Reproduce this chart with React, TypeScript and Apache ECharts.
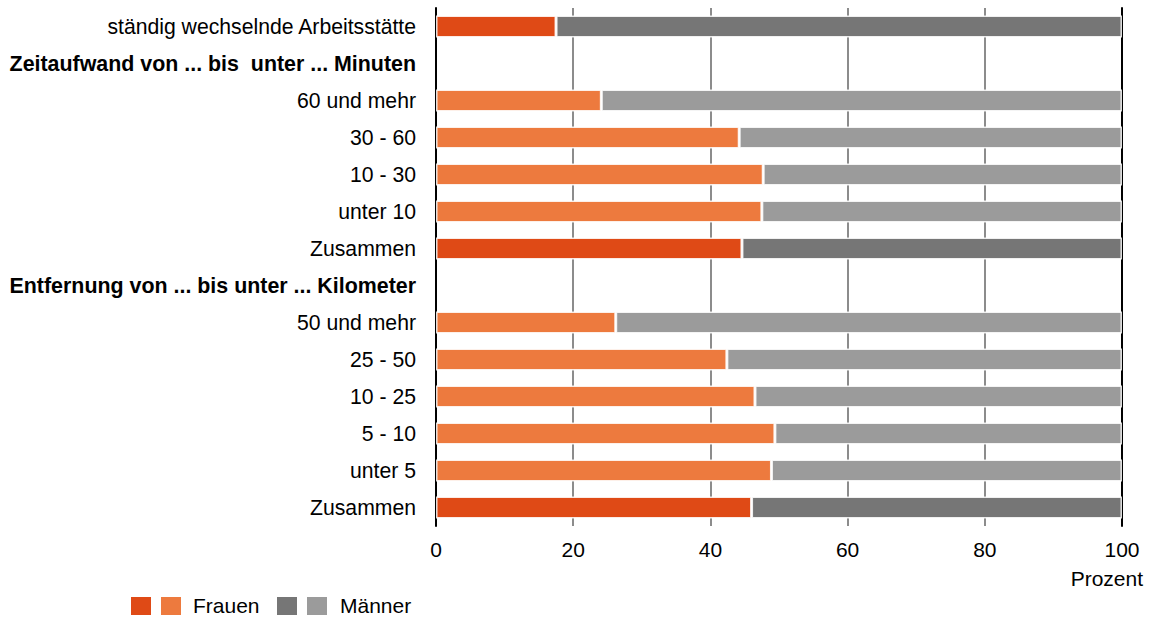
import React, { useEffect, useRef } from "react";
import * as echarts from "echarts";

const categories = [
  "ständig wechselnde Arbeitsstätte",
  "Zeitaufwand von ... bis  unter ... Minuten",
  "60 und mehr",
  "30 - 60",
  "10 - 30",
  "unter 10",
  "Zusammen",
  "Entfernung von ... bis unter ... Kilometer",
  "50 und mehr",
  "25 - 50",
  "10 - 25",
  "5 - 10",
  "unter 5",
  "Zusammen",
];

const kinds = [
  "total", "header", "sub", "sub", "sub", "sub", "total",
  "header", "sub", "sub", "sub", "sub", "sub", "total",
];

const frauen = [17.5, null, 24.1, 44.2, 47.7, 47.5, 44.6, null, 26.2, 42.4, 46.5, 49.4, 48.9, 46.0];
const maenner = [82.5, null, 75.9, 55.8, 52.3, 52.5, 55.4, null, 73.8, 57.6, 53.5, 50.6, 51.1, 54.0];

const xTicks = [0, 20, 40, 60, 80, 100];

const COLORS = {
  fDark: "#DF4A16",
  fLight: "#ED7A3E",
  mDark: "#767676",
  mLight: "#9B9B9B",
};

const FONT = "'Liberation Sans', Arial, sans-serif";

export default function App() {
  const ref = useRef<HTMLDivElement>(null);

  useEffect(() => {
    document.body.style.margin = "0";
    if (!ref.current) return;
    const chart = echarts.init(ref.current, null, { renderer: "svg" });

    const mk = (vals: (number | null)[], dark: string, light: string) =>
      vals.map((v, i) =>
        v === null
          ? null
          : { value: v, itemStyle: { color: kinds[i] === "total" ? dark : light } }
      );

    const barStyle = {
      borderColor: "rgba(255,255,255,0.85)",
      borderWidth: 1.5,
    };

    chart.setOption({
      animation: false,
      textStyle: { fontFamily: FONT },
      grid: { left: 436, right: 29, top: 8, height: 518, containLabel: false },
      xAxis: {
        type: "value",
        min: 0,
        max: 100,
        interval: 20,
        axisLine: { show: false },
        axisTick: { show: false },
        axisLabel: {
          fontSize: 21,
          color: "#000",
          fontFamily: FONT,
          margin: 13,
          formatter: (v: number) => (xTicks.includes(v) ? String(v) : ""),
        },
        splitLine: { show: true, lineStyle: { color: "#8C8C8C", width: 2 } },
      },
      yAxis: [
        {
          type: "category",
          data: categories,
          inverse: true,
          axisLine: { show: true, lineStyle: { color: "#000", width: 2 } },
          axisTick: { show: false },
          axisLabel: {
            fontSize: 21.2,
            color: "#000",
            fontFamily: FONT,
            margin: 20,
            formatter: (v: string, i: number) =>
              kinds[i] === "header" ? "{b|" + v + "}" : v,
            rich: {
              b: { fontWeight: "bold", fontSize: 21.4, color: "#000", fontFamily: FONT },
            },
          },
        },
        {
          type: "category",
          data: categories,
          inverse: true,
          position: "right",
          axisLine: { show: true, lineStyle: { color: "#000", width: 2 } },
          axisTick: { show: false },
          axisLabel: { show: false },
        },
      ],
      series: [
        {
          name: "Frauen",
          type: "bar",
          stack: "s",
          barWidth: 22,
          itemStyle: barStyle,
          data: mk(frauen, COLORS.fDark, COLORS.fLight),
        },
        {
          name: "Männer",
          type: "bar",
          stack: "s",
          barWidth: 22,
          itemStyle: barStyle,
          data: mk(maenner, COLORS.mDark, COLORS.mLight),
        },
      ],
      graphic: [
        {
          type: "text",
          right: 8,
          top: 568,
          style: { text: "Prozent", fontSize: 21, fill: "#000", fontFamily: FONT },
        },
        { type: "rect", shape: { x: 131, y: 597, width: 20, height: 18 }, style: { fill: COLORS.fDark } },
        { type: "rect", shape: { x: 161, y: 597, width: 20, height: 18 }, style: { fill: COLORS.fLight } },
        {
          type: "text",
          left: 193,
          top: 595,
          style: { text: "Frauen", fontSize: 21, fill: "#000", fontFamily: FONT },
        },
        { type: "rect", shape: { x: 277, y: 597, width: 20, height: 18 }, style: { fill: COLORS.mDark } },
        { type: "rect", shape: { x: 307, y: 597, width: 20, height: 18 }, style: { fill: COLORS.mLight } },
        {
          type: "text",
          left: 340,
          top: 595,
          style: { text: "Männer", fontSize: 21, fill: "#000", fontFamily: FONT },
        },
      ],
    });

    return () => chart.dispose();
  }, []);

  return <div ref={ref} style={{ width: 1151, height: 619 }} />;
}
